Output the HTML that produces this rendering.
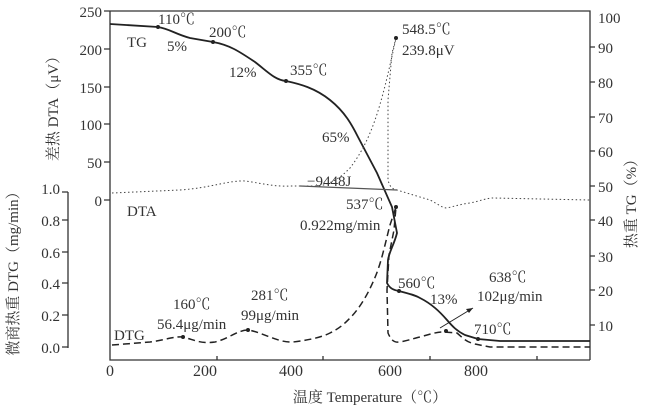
<!DOCTYPE html>
<html><head><meta charset="utf-8"><style>
body{margin:0;background:#fff}
svg text{font-family:"Liberation Serif","Noto Serif CJK SC",serif;fill:#333;font-size:15px}
</style></head><body>
<svg width="646" height="411" viewBox="0 0 646 411" xmlns="http://www.w3.org/2000/svg">
<g stroke="#333" stroke-width="1.3" fill="none">
<path d="M110,11 H590 V356 M110,11 V360 H590"/>
<path d="M68,192 V348"/>
<path d="M217,356 V360 M323,356 V360 M430,356 V360 M537,356 V360 M590,356 V360"/>
<path d="M104,11H110 M104,49H110 M104,87H110 M104,124H110 M104,162H110 M104,200H110"/>
<path d="M62,192H68 M62,220H68 M62,252H68 M62,283H68 M62,315H68 M62,347H68"/>
<path d="M590,47h5 M590,82h5 M590,117h5 M590,151h5 M590,186h5 M590,220h5 M590,256h5 M590,290h5 M590,325h5"/>
</g>
<g text-anchor="end" style="font-size:16px">
<text x="102" y="17">250</text><text x="102" y="55">200</text><text x="102" y="93">150</text><text x="102" y="130">100</text><text x="102" y="168">50</text><text x="102" y="206">0</text>
<text x="60" y="194">1.0</text><text x="60" y="226">0.8</text><text x="60" y="258">0.6</text><text x="60" y="289">0.4</text><text x="60" y="321">0.2</text><text x="60" y="353">0.0</text>
</g>
<g style="font-size:16px">
<text x="598" y="23">100</text><text x="598" y="53">90</text><text x="598" y="88">80</text><text x="598" y="123">70</text><text x="598" y="157">60</text><text x="598" y="192">50</text><text x="598" y="226">40</text><text x="598" y="262">30</text><text x="598" y="296">20</text><text x="598" y="331">10</text>
</g>
<g text-anchor="middle">
<text x="110" y="376" style="font-size:16px">0</text><text x="205" y="376" style="font-size:16px">200</text><text x="291" y="376" style="font-size:16px">400</text><text x="390" y="376" style="font-size:16px">600</text><text x="476" y="376" style="font-size:16px">800</text>
<text x="370" y="402">温度 Temperature（℃）</text>
<text transform="translate(58,105) rotate(-90)">差热 DTA（μV）</text>
<text transform="translate(18,270) rotate(-90)">微商热重 DTG（mg/min）</text>
<text transform="translate(636,200) rotate(-90)">热重 TG（%）</text>
</g>
<path d="M110,24 L158,27 C170,29 175,34 190,38 L213,42 C230,45 240,52 255,62 C268,72 275,80 286,81 C300,84 315,88 330,100 C345,112 352,125 358,137 L377,173 L392,207 L397,233 C394,245 389,252 388,260 L387,283 C390,289 394,290 399,291 C410,294 415,295 420,298 C432,304 440,312 447,320 C453,327 457,331 465,335 L478,339 L500,341 H590" stroke="#222" stroke-width="1.8" fill="none"/>
<path d="M112,345 L150,342 C165,340 175,336 183,337 C195,340 200,344 215,342 C228,339 238,330 248,330 C262,332 278,343 293,342 C310,340 322,337 330,333 C342,327 346,322 352,316 C362,305 370,290 376,275 C382,260 386,240 390,225 L396,207 L394,230 L389,255 L387,290 L388,333 C391,340 394,343 400,342 C410,340 415,338 420,337 C430,334 437,332 443,332 L457,333 C463,338 466,342 475,344 L490,347 H590" stroke="#222" stroke-width="1.5" stroke-dasharray="7,4" fill="none"/>
<path d="M112,193 L180,190 C210,188 230,180 245,181 C260,183 275,187 290,186 L320,186 C335,182 342,176 350,168 C360,155 368,140 375,120 C382,100 388,75 396,38 L392,53 L388,100 L388,180 C390,188 393,189 397,190 C410,194 420,197 430,200 C438,204 442,208 447,208 C455,206 462,204 470,203 C480,201 487,198 493,198 L590,200" stroke="#444" stroke-width="1" stroke-dasharray="1.5,2.5" fill="none"/>
<path d="M300,186 L397,190" stroke="#555" stroke-width="1.2"/>
<path d="M440,328 L473,308" stroke="#222" stroke-width="1"/><path d="M473,308 l-7,1 l3,4z" fill="#222"/>
<g fill="#222"><circle cx="158" cy="27" r="2"/><circle cx="213" cy="42" r="2"/><circle cx="286" cy="81" r="2"/><circle cx="396" cy="38" r="2"/><circle cx="396" cy="207" r="2"/><circle cx="399" cy="291" r="2"/><circle cx="478" cy="339" r="2"/><circle cx="183" cy="337" r="2"/><circle cx="248" cy="330" r="2"/><circle cx="446" cy="331" r="2"/></g>
<text x="158" y="24">110℃</text><text x="209" y="37">200℃</text><text x="290" y="75">355℃</text>
<text x="127" y="47">TG</text><text x="167" y="51">5%</text><text x="229" y="77">12%</text><text x="322" y="142">65%</text>
<text x="402" y="34">548.5℃</text><text x="402" y="55">239.8μV</text>
<text x="307" y="186">−9448J</text><text x="346" y="209">537℃</text><text x="300" y="230">0.922mg/min</text>
<text x="127" y="216">DTA</text>
<text x="398" y="288">560℃</text><text x="430" y="304">13%</text><text x="489" y="282">638℃</text><text x="477" y="301">102μg/min</text><text x="474" y="334">710℃</text>
<text x="173" y="309">160℃</text><text x="157" y="329">56.4μg/min</text><text x="251" y="300">281℃</text><text x="241" y="320">99μg/min</text>
<text x="114" y="340">DTG</text>
</svg>
</body></html>
